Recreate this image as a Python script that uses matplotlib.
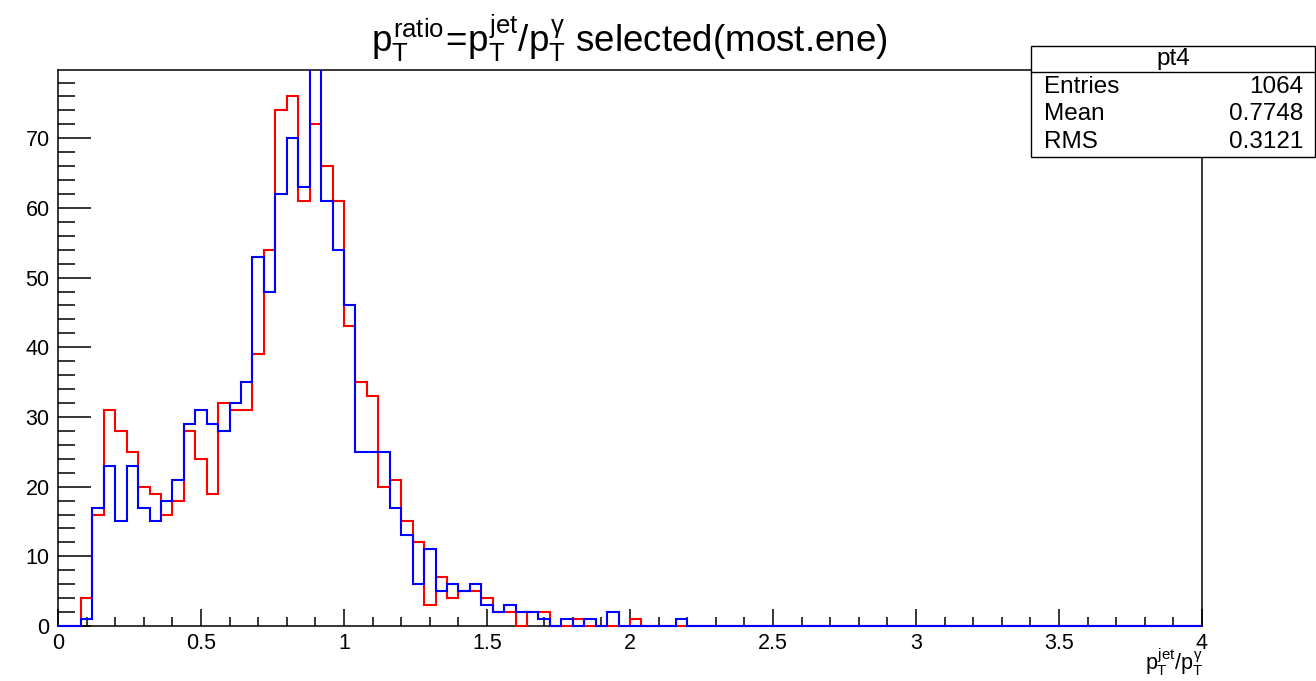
import numpy as np
import matplotlib
matplotlib.use("Agg")
import matplotlib.pyplot as plt
from matplotlib.patches import Rectangle
from matplotlib.lines import Line2D
from matplotlib.ticker import MultipleLocator, FuncFormatter

plt.rcParams["font.family"] = ["Liberation Sans", "DejaVu Sans"]
plt.rcParams["mathtext.fontset"] = "custom"
plt.rcParams["mathtext.rm"] = "Liberation Sans"
plt.rcParams["mathtext.it"] = "Liberation Sans"
plt.rcParams["mathtext.bf"] = "Liberation Sans:bold"

W, H = 1316, 681

# 100 bins of width 0.04 on [0, 4]
X_MIN, X_MAX, N_BINS = 0.0, 4.0, 100

# pT ratio counts, first 55 bins (the rest are empty)
RED_COUNTS = [0, 0, 4, 16, 31, 28, 25, 20, 19, 16,
              18, 28, 24, 19, 32, 31, 31, 39, 54, 74,
              76, 61, 72, 66, 61, 43, 35, 33, 20, 21,
              15, 12, 3, 7, 4, 5, 5, 4, 2, 2,
              0, 2, 2, 0, 0, 1, 0, 0, 0, 0,
              1, 0, 0, 0, 0]
BLUE_COUNTS = [0, 0, 1, 17, 23, 15, 23, 17, 15, 18,
               21, 29, 31, 29, 28, 32, 35, 53, 48, 62,
               70, 63, 92, 61, 54, 46, 25, 25, 25, 17,
               13, 6, 11, 5, 6, 5, 6, 3, 2, 3,
               2, 2, 1, 0, 1, 0, 1, 0, 2, 0,
               0, 0, 0, 0, 1]

HIST_NAME = "pt4"
STAT_LABELS = ["Entries", "Mean", "RMS"]
STAT_VALUES = ["1064", "0.7748", "0.3121"]

TITLE = r"$p_T^{ratio}\!=\!p_T^{jet}/p_T^{\gamma}$ selected(most.ene)"
XTITLE = r"$p_T^{jet}/p_T^{\gamma}$"


def pad(counts):
    return np.array(counts + [0] * (N_BINS - len(counts)), dtype=float)


def px(x, y):
    # pixel position (from top-left) -> figure fraction
    return x / W, 1 - y / H


edges = np.linspace(X_MIN, X_MAX, N_BINS + 1)
red = pad(RED_COUNTS)
blue = pad(BLUE_COUNTS)

fig = plt.figure(figsize=(W / 100, H / 100), dpi=100)
l, b = px(58, 626)
r, t = px(1202, 70)
ax = fig.add_axes([l, b, r - l, t - b])

ymax = 1.05 * red.max()
ax.set_xlim(X_MIN, X_MAX)
ax.set_ylim(0, ymax)

# let the zero line sit on top of the axis, clip only at the top
clip = Rectangle((0, -0.02), 1, 1.02, transform=ax.transAxes, visible=False)
ax.add_patch(clip)
for counts, col in [(red, "#ff0000"), (blue, "#0000ff")]:
    st = ax.stairs(counts, edges, baseline=0, fill=False,
                   color=col, linewidth=1.5, zorder=3)
    st.set_clip_path(clip)

ax.xaxis.set_major_locator(MultipleLocator(0.5))
ax.xaxis.set_minor_locator(MultipleLocator(0.1))
ax.yaxis.set_major_locator(MultipleLocator(10))
ax.yaxis.set_minor_locator(MultipleLocator(2))
ax.xaxis.set_major_formatter(FuncFormatter(lambda v, p: f"{v:g}"))
ax.yaxis.set_major_formatter(FuncFormatter(lambda v, p: f"{v:g}"))

ax.tick_params(axis="both", which="both", direction="in",
               top=False, right=False, width=1.1, colors="black")
ax.tick_params(axis="x", which="major", length=12.5, pad=5, labelsize=15.5)
ax.tick_params(axis="x", which="minor", length=6.2)
ax.tick_params(axis="y", which="major", length=24, pad=6, labelsize=15.5)
ax.tick_params(axis="y", which="minor", length=12)
for s in ax.spines.values():
    s.set_linewidth(1.1)

fig.text(*px(629, 52), TITLE, ha="center", va="baseline", fontsize=26.5)
fig.text(*px(1203, 678), XTITLE, ha="right", va="bottom", fontsize=15.5)

# stats box
bx0, by0 = px(1031, 157)
bx1, by1 = px(1315, 46)
fig.patches.append(Rectangle((bx0, by0), bx1 - bx0, by1 - by0,
                             transform=fig.transFigure, facecolor="white",
                             edgecolor="black", linewidth=1.0, zorder=10))
dy = px(0, 72)[1]
fig.lines.append(Line2D([bx0, bx1], [dy, dy], transform=fig.transFigure,
                        color="black", linewidth=1.0, zorder=11))
fig.text(*px(1173, 59), HIST_NAME, ha="center", va="center",
         fontsize=17.5, zorder=12)
for i, (lab, val) in enumerate(zip(STAT_LABELS, STAT_VALUES)):
    yy = 87 + i * 27.5
    fig.text(*px(1044, yy), lab, ha="left", va="center", fontsize=17.5, zorder=12)
    fig.text(*px(1303, yy), val, ha="right", va="center", fontsize=17.5, zorder=12)

fig.savefig("out.png", dpi=100, facecolor="white")
